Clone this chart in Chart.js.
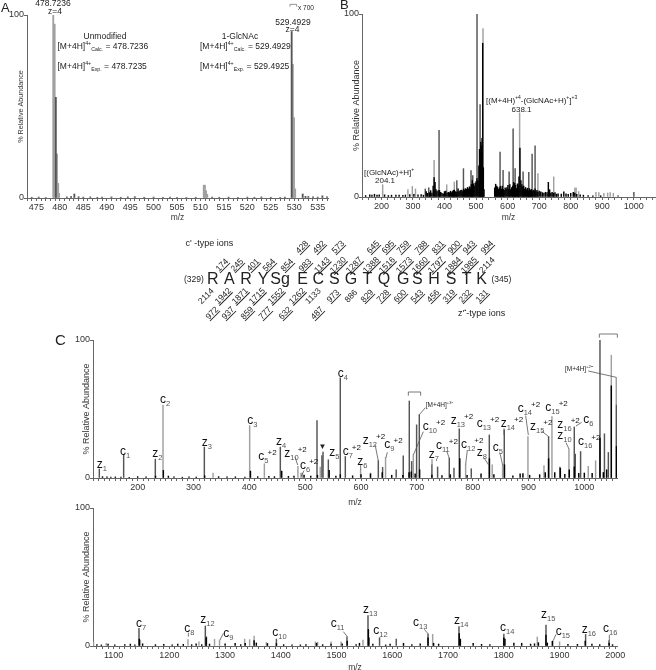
<!DOCTYPE html>
<html>
<head>
<meta charset="utf-8">
<script src="https://cdn.jsdelivr.net/npm/chart.js@4"></script>
<style>
  html, body { margin: 0; padding: 0; background: #fff; }
  #page { position: relative; width: 656px; height: 670px; overflow: hidden; font-family: "Liberation Sans", Arial, sans-serif; color: #222; }
  canvas { position: absolute; }
  #marks { position: absolute; left: 0; top: 0; }
  .t { position: absolute; white-space: nowrap; line-height: 1; }
  .t sub, .t sup { font-size: 0.62em; line-height: 0; }
  .ion { font-size: 12px; color: #111; }
  .ion sub { font-size: 7.5px; color: #555; vertical-align: -3px; }
  .ion sup { font-size: 8px; vertical-align: 5px; margin-left: -1px; }
  .num { font-size: 8.5px; transform: translate(-50%, -50%) rotate(-45deg); }
  .u { text-decoration: underline; }
</style>
</head>
<body>
<div id="page">
  <canvas id="chartA"></canvas>
  <canvas id="chartB"></canvas>
  <canvas id="chartC"></canvas>
  <canvas id="chartD"></canvas>
  <svg id="marks" width="656" height="670"></svg>
</div>
<script>
// Panel A, isotope clusters around 478.7 and 529.5
const aLabels = [475, 480, 485, 490, 495, 500, 505, 510, 515, 520, 525, 530, 535];
const aGrayMz = [478.6, 478.9, 479.4, 479.65, 479.85, 510.7, 510.95, 511.2, 511.45, 529.7, 529.95, 530.2];
const aGrayPct = [100, 95, 24, 8, 2.5, 7, 7, 4, 2, 73, 44, 5];
const aDarkMz = [479.15, 529.45, 483.1, 531.8, 536, 474, 475.5, 477, 481.5, 482.4, 484, 485, 486.5, 488, 489, 491, 493, 494.5, 496, 498, 500, 502, 503.5, 505, 507, 509, 512.5, 514, 516, 518, 520, 521.5, 523, 525, 527, 528, 532.4, 533, 534, 535, 537];
const aDarkPct = [55, 91, 2.2, 2.2, 1.2, 0.4, 0.5, 0.3, 0.6, 0.8, 0.7, 0.5, 0.6, 0.4, 0.5, 0.6, 0.4, 0.6, 0.7, 0.4, 0.5, 0.4, 0.5, 0.4, 0.3, 0.4, 0.5, 0.4, 0.5, 0.3, 0.5, 0.4, 0.6, 0.4, 0.3, 0.5, 0.9, 0.8, 0.6, 0.5, 0.7];

// Panel B, MS/MS of the glycopeptide
const bLabels = [200, 300, 400, 500, 600, 700, 800, 900, 1000];
const bGrayMz = [204, 284, 298, 308, 367, 407, 431, 522, 638, 696, 746, 813, 817, 825, 880, 889, 905, 917, 925, 935];
const bGrayPct = [6.7, 4, 5.8, 4.4, 20, 6.7, 8.2, 92, 46, 12.8, 11, 4.9, 5, 3, 2.6, 2.4, 2, 2.2, 2.4, 2];
const bDarkMz = [339, 350, 382.7, 439, 460, 484, 489.5, 503, 512.7, 576, 585.6, 604.7, 617.4, 623.7, 649, 667, 677.6, 687, 1000, 950];
const bDarkPct = [4.4, 5, 36.4, 9, 15.5, 14.4, 11.7, 100, 50.5, 24.6, 14.6, 13.7, 37.2, 15.5, 13.7, 13.5, 23.5, 28, 2.6, 0.8];
const bBlackMz = [150, 163, 170, 178, 186, 193, 210, 222, 232, 246, 256, 268, 276, 290, 303, 316, 326, 333, 342, 346, 352, 356, 360, 364, 367, 370, 373, 376, 380, 384, 388, 392, 396, 400, 404, 408, 412, 416, 419, 422, 425, 428, 431, 434, 437, 440, 443, 446, 449, 452, 455, 458, 461, 464, 467, 470, 473, 476, 479, 482, 485, 488, 491, 494, 497, 500, 503, 506, 509, 511, 513, 515, 517, 519, 521, 523, 525, 559, 562, 565, 568, 571, 574, 577, 580, 583, 586, 589, 592, 595, 598, 601, 604, 607, 610, 613, 616, 619, 622, 625, 628, 631, 634, 636, 639, 642, 645, 648, 651, 654, 657, 660, 663, 666, 669, 672, 675, 678, 681, 684, 687, 690, 693, 696, 700, 705, 710, 715, 720, 725, 729, 733, 737, 741, 745, 750, 755, 760, 770, 778, 785, 792, 800, 808, 813, 819, 830, 840, 855, 870, 895];
const bBlackPct = [0.8, 1.2, 1, 1.5, 1, 1.2, 1.2, 0.8, 1, 1, 1, 0.9, 1.1, 1.3, 1.5, 1.2, 1.3, 1, 3, 2, 2.4, 3.5, 2.2, 6, 10.6, 8, 4, 3, 3.5, 3.6, 2.5, 2, 1.8, 3, 3.2, 2.2, 2.6, 2.4, 3.2, 2.4, 3, 3.6, 3.8, 3, 2.4, 2.8, 4.4, 3, 3.4, 3.6, 3.8, 3, 4.4, 3.8, 4.6, 4.2, 5.2, 4.4, 5.6, 5, 6.8, 9, 7.2, 6, 7.6, 8.4, 10, 8.8, 17, 26, 21, 30, 28, 32, 84, 16, 4, 5, 7, 6, 5.4, 4.2, 5, 5.8, 4.4, 6, 4.2, 3.6, 5, 4.4, 5.2, 6.4, 4.2, 6.8, 4, 5.2, 6, 8, 7.4, 6.4, 4.8, 7.2, 6.6, 11, 26.8, 9, 6.8, 5.6, 6, 4.4, 5.2, 4, 4.8, 3.4, 4.6, 3.6, 4.2, 3, 3.8, 3.2, 4.4, 3, 3.6, 2.6, 3.2, 2.8, 2.4, 2.2, 2.6, 2.4, 8, 4, 2.2, 2.6, 2, 2.4, 1.6, 1.8, 1.6, 2.8, 1.8, 1.4, 2, 2.6, 2.2, 1.4, 1.2, 1, 0.8, 0.6, 0.7];

// Panel C, ETD spectrum upper range
const cLabels = [200, 300, 400, 500, 600, 700, 800, 900, 1000];
const cGrayMz = [245.4, 335, 400.6, 426.9, 487, 492.5, 495, 527, 599.3, 617, 644, 693.7, 787.4, 835, 853.6, 899, 927.7, 942, 972.4, 1007, 1020.2, 1048.3, 1057.2];
const cGrayPct = [52.9, 3.6, 38, 10.3, 8.4, 3.6, 3.6, 8, 6, 3.6, 15, 16.8, 10, 9.6, 9.6, 30, 9, 44.5, 21, 8.4, 12.5, 89, 72.8];
const cDarkMz = [131.3, 174.9, 231.6, 319.4, 455.5, 521.2, 532, 530, 541.5, 562.9, 571.9, 631, 638.7, 663, 675.7, 686.5, 690.7, 699.6, 704.4, 727, 737.2, 758.1, 766.5, 776, 797.5, 829.8, 856.6, 936, 956.3, 982, 983.8, 993.3, 1028, 1036, 1043, 1057.6];
const cDarkPct = [6.5, 16.8, 13.7, 22.4, 22.4, 41.6, 18.8, 16.3, 13.2, 72.6, 15.6, 12.5, 7.7, 6, 16, 55.8, 12, 38.5, 46, 9.6, 8, 14.4, 7.2, 35.6, 6.7, 31.2, 34.9, 30, 8, 37, 17.3, 19.2, 100, 32, 18.5, 52.9];
const cBlackMz = [137, 145, 152, 160, 170, 185, 200, 215, 232, 246, 255, 265, 280, 292, 305, 320, 345, 360, 375, 392, 402, 415, 435, 445, 458, 470, 480, 498, 510, 522, 543, 555, 563, 585, 600, 617, 638, 655, 675, 686, 690, 697, 705, 727, 745, 760, 777, 790, 815, 830, 838, 857, 872, 885, 890, 902, 920, 930, 936, 947, 957, 965, 973, 982, 990, 1000, 1014, 1028, 1034, 1040, 1048.3, 1057.6];
const cBlackPct = [1, 0.8, 0.6, 0.8, 0.7, 0.5, 1, 0.8, 1.4, 5.5, 1.4, 0.8, 0.6, 0.9, 0.7, 1.6, 1, 0.8, 0.9, 0.7, 5, 1, 1.2, 1, 5, 1.2, 1.4, 2.2, 1.4, 2, 5.5, 1.4, 2.4, 1.6, 2.4, 3, 4, 2, 2, 4, 4.4, 3, 6, 2.2, 1.8, 2.4, 14, 2, 3, 14, 2.4, 9.6, 1.6, 3, 3.2, 2, 2.4, 4, 14, 4, 7, 2.6, 6, 8, 3.4, 3.6, 3.4, 29, 4, 6, 66.8, 23];

// Panel C, ETD spectrum lower range (enlarged baseline)
const dLabels = [1100, 1200, 1300, 1400, 1500, 1600, 1700, 1800, 1900, 2000];
const dGrayMz = [1064, 1086.8, 1148, 1233.4, 1253, 1281, 1290, 1335, 1344, 1352, 1374, 1462, 1466, 1490, 1508, 1547.3, 1672.3, 1860, 1888, 1900];
const dGrayPct = [3, 2, 4.3, 4.6, 3, 4.8, 4.3, 5, 4.6, 7.2, 2.6, 3, 2.8, 3, 3, 4.3, 8.4, 6.5, 4, 3];
const dDarkMz = [1145.5, 1264.5, 1266.5, 1392, 1518.6, 1556.3, 1558.5, 1577, 1607, 1664, 1719.5, 1800, 1875.6, 1946.7, 1988.6];
const dDarkPct = [12.8, 14.5, 6.7, 5, 6.7, 22, 6, 6, 5, 8.7, 14, 8.7, 15.2, 8.4, 3.9];
const dBlackMz = [1070, 1078, 1090, 1102, 1120, 1130, 1138, 1146, 1152, 1175, 1190, 1205, 1215, 1225, 1240, 1248, 1258, 1266, 1272, 1300, 1318, 1328, 1336, 1352, 1356, 1376, 1392, 1405, 1420, 1435, 1445, 1464, 1475, 1490, 1510, 1519, 1535, 1541, 1557, 1565, 1588, 1596, 1620, 1635, 1650, 1664, 1674, 1683, 1720, 1722, 1745, 1760, 1775, 1800, 1802, 1818, 1832, 1848, 1855, 1862, 1875.6, 1878, 1887, 1915, 1932, 1946, 1958, 1972, 1989, 1995];
const dBlackPct = [1, 0.8, 1.4, 0.8, 1, 1.4, 0.8, 5, 1.6, 1, 1.2, 0.8, 1.4, 1.2, 1, 1.6, 1, 6, 1.4, 1.6, 2, 1, 2, 4, 2.2, 1.8, 1.8, 1, 0.8, 0.8, 1, 2, 1, 1.4, 1.6, 3.6, 1, 2, 12, 1.4, 0.8, 1.4, 2, 1, 1.6, 6, 2, 1.4, 9, 5, 2, 1.2, 1, 6, 5, 2.2, 2, 1.4, 1.6, 2.4, 8, 2.2, 3.4, 1.2, 1.2, 3.6, 1.4, 1, 2.2, 1];

// Peptide map
const residues = ['R', 'A', 'R', 'Y', 'Sg', 'E', 'C', 'S', 'G', 'T', 'Q', 'G', 'S', 'H', 'S', 'T', 'K'];
const cIons = ['174', '245', '401', '564', '854', '983', '1143', '1230', '1287', '1388', '1516', '1573', '1660', '1797', '1884', '1985', '2114'];
const cIons2 = ['428', '492', '573', '645', '695', '759', '788', '831', '900', '943', '994'];
const zIons = ['2114', '1942', '1871', '1715', '1552', '1262', '1133', '973', '886', '829', '728', '600', '543', '456', '319', '232', '131'];
const zIons2 = ['972', '937', '859', '777', '632', '487'];
const notUnderlined = ['2114', '1133', '886'];

const residueX = [128, 178, 228, 279, 330, 398, 445, 493, 543, 592, 642, 700, 742, 792, 843, 890, 935];
const cIonX = [155, 200, 250, 298, 350, 405, 455, 505, 553, 603, 652, 702, 750, 798, 848, 897, 950];
const cIon2X = [395, 448, 505, 608, 655, 700, 752, 803, 852, 898, 950];
const zIonX = [108, 160, 210, 260, 318, 380, 430, 490, 543, 590, 640, 690, 740, 790, 838, 885, 935];
const zIon2X = [125, 175, 230, 285, 345, 440];

const GRAY = '#a0a0a0', DARK = '#555555', BLACK = '#000000', AXIS = '#666666';

function peaks(mz, pct) {
  return mz.map((x, i) => ({ x, y: pct[i] }));
}

function spectrum(id, opt) {
  const canvas = document.getElementById(id);
  const box = opt.box;
  canvas.style.left = box.x + 'px';
  canvas.style.top = box.y + 'px';
  canvas.width = box.w;
  canvas.height = box.h;

  const sets = opt.series.map(([data, color]) => ({
    data, backgroundColor: color, barThickness: opt.bar || 0.8, grouped: false, borderWidth: 0,
  }));

  return new Chart(canvas, {
    type: 'bar',
    data: { datasets: sets },
    options: {
      responsive: false,
      animation: false,
      layout: {
        padding: { left: 0, top: opt.area.top - box.y, right: box.x + box.w - opt.area.right, bottom: 0 },
      },
      plugins: { legend: { display: false }, tooltip: { enabled: false } },
      scales: {
        x: {
          type: 'linear',
          offset: false,
          min: opt.min,
          max: opt.max,
          grid: { drawOnChartArea: false, offset: false, tickLength: 3, tickWidth: 1, tickColor: AXIS },
          border: { color: AXIS, width: 1 },
          afterBuildTicks: (axis) => {
            const list = [];
            const first = Math.ceil(opt.min / opt.step) * opt.step;
            for (let v = first; v <= opt.max; v += opt.step) list.push({ value: v });
            axis.ticks = list;
          },
          ticks: {
            autoSkip: false, maxRotation: 0, padding: 1, color: '#333', font: { size: 9 },
            callback: (v) => (opt.labels.includes(v) ? String(v) : ''),
          },
          title: { display: true, text: 'm/z', color: '#333', font: { size: 8.5, lineHeight: 1 }, padding: 0 },
          afterFit: (axis) => { axis.height = box.y + box.h - opt.area.bottom; },
        },
        y: {
          min: 0,
          max: 100,
          grid: { drawOnChartArea: false, tickLength: 3, tickWidth: 1, tickColor: AXIS },
          border: { color: AXIS, width: 1 },
          ticks: { stepSize: 100, padding: 0, color: '#333', font: { size: 9 } },
          title: {
            display: true, text: '% Relative Abundance', color: '#333',
            font: { size: opt.titleSize || 8.5, lineHeight: 1 },
            // tick labels get clipped to the axis box, so the box stays wide and the title is pushed in
            padding: { top: opt.titleX - 4.5 - box.x, bottom: 0 },
          },
          afterFit: (axis) => { axis.width = opt.area.left - box.x; },
        },
      },
    },
  });
}

spectrum('chartA', {
  box: { x: 0, y: 0, w: 335, h: 222 }, area: { left: 27, right: 328, top: 15, bottom: 198 },
  titleX: 22, min: 473, max: 537.2, step: 1, labels: aLabels, bar: 1.2, titleSize: 7.2,
  series: [[peaks(aDarkMz, aDarkPct), DARK], [peaks(aGrayMz, aGrayPct), GRAY]],
});
spectrum('chartB', {
  box: { x: 335, y: 0, w: 321, h: 222 }, area: { left: 362, right: 655, top: 14, bottom: 197 },
  titleX: 357, min: 138.5, max: 1067, step: 20, labels: bLabels, titleSize: 9,
  series: [[peaks(bBlackMz, bBlackPct), BLACK], [peaks(bDarkMz, bDarkPct), DARK], [peaks(bGrayMz, bGrayPct), GRAY]],
});
spectrum('chartC', {
  box: { x: 60, y: 332, w: 570, h: 175 }, area: { left: 93, right: 617, top: 340, bottom: 478 },
  titleX: 86.5, min: 120, max: 1058.5, step: 10, labels: cLabels, titleSize: 9,
  series: [[peaks(cBlackMz, cBlackPct), BLACK], [peaks(cDarkMz, cDarkPct), DARK], [peaks(cGrayMz, cGrayPct), GRAY]],
});
spectrum('chartD', {
  box: { x: 60, y: 500, w: 570, h: 172 }, area: { left: 93, right: 617, top: 508, bottom: 646 },
  titleX: 86.5, min: 1063, max: 2003, step: 10, labels: dLabels, titleSize: 9,
  series: [[peaks(dBlackMz, dBlackPct), BLACK], [peaks(dDarkMz, dDarkPct), DARK], [peaks(dGrayMz, dGrayPct), GRAY]],
});

// ---- annotations as plain text over the canvases ----
const page = document.getElementById('page');
const svg = document.getElementById('marks');

function text(html, x, y, size, align, cls) {
  const el = document.createElement('div');
  el.className = 't ' + (cls || '');
  el.innerHTML = html;
  el.style.left = x + 'px';
  el.style.top = y + 'px';
  if (size) el.style.fontSize = size + 'px';
  const tx = align === 'c' ? '-50%' : '0';
  if (cls !== 'num') el.style.transform = `translate(${tx}, -50%)`;
  page.appendChild(el);
  return el;
}

// lines are read in 3x crop coordinates, ox/oy is the crop origin
function lines(ox, oy, list, color) {
  list.forEach((p) => {
    const l = document.createElementNS('http://www.w3.org/2000/svg', 'polyline');
    const pts = [];
    for (let i = 0; i < p.length; i += 2) pts.push((ox + p[i] / 3) + ',' + (oy + p[i + 1] / 3));
    l.setAttribute('points', pts.join(' '));
    l.setAttribute('fill', 'none');
    l.setAttribute('stroke', color || '#555');
    l.setAttribute('stroke-width', '0.8');
    svg.appendChild(l);
  });
}

function ions(ox, oy, list) {
  list.forEach(([name, sub, sup, zx, zy]) => {
    let html = name;
    if (sub) html += `<sub>${sub}</sub>`;
    if (sup) html += `<sup>${sup}</sup>`;
    text(html, ox + zx / 3, oy + zy / 3, null, 'l', 'ion');
  });
}

// panel letters
text('A', 1, 7, 13);
text('B', 340, 4, 13);
text('C', 55, 339, 15);

// panel A notes
text('478.7236', 53, 3, 8.5, 'c');
text('z=4', 55, 11, 8.5, 'c');
text('Unmodified', 105, 35.5, 8.5, 'c');
text('[M+4H]<sup>4+</sup><sub>Calc.</sub> = 478.7236', 57.5, 45.5, 8.5);
text('[M+4H]<sup>4+</sup><sub>Exp.</sub> = 478.7235', 57.5, 66, 8.5);
text('1-GlcNAc', 240, 35.5, 8.5, 'c');
text('[M+4H]<sup>4+</sup><sub>Calc.</sub> = 529.4929', 200, 45.5, 8.5);
text('[M+4H]<sup>4+</sup><sub>Exp.</sub> = 529.4925', 200, 66, 8.5);
text('529.4929', 293, 21.5, 8.5, 'c');
text('z=4', 292.5, 28.5, 8.5, 'c');
text('x 700', 298, 8, 6.5);
lines(0, 0, [[870, 20, 870, 13, 890, 13, 890, 20]], '#777');

// panel B notes
text('[(GlcNAc)+H]<sup>+</sup>', 364, 172.5, 8);
text('204.1', 385, 180.5, 8, 'c');
text('[(M+4H)<sup>+4</sup>-(GlcNAc+H)<sup>+</sup>]<sup>+3</sup>', 486, 101, 8);
text('638.1', 521.5, 109.5, 8, 'c');

// peptide map
residues.forEach((r, i) => text(r, 170 + residueX[i] / 3, 278.5, 16, 'c'));
text('(329)', 184, 279, 8.5);
text('(345)', 491.5, 279, 8.5);
text("c' -type ions", 185.5, 242.5, 9);
text("z'<sup>•</sup>-type ions", 458, 312.5, 9);
function numbers(labels, xs, y) {
  labels.forEach((n, i) => {
    const el = text(n, 170 + xs[i] / 3, y, 8.5, 'l', 'num');
    if (!notUnderlined.includes(n)) el.classList.add('u');
  });
}
numbers(cIons, cIonX, 265);
numbers(cIons2, cIon2X, 247);
numbers(zIons, zIonX, 296);
numbers(zIons2, zIon2X, 313);

// panel C upper ion labels
ions(0, 325, [
  ['z', '1', '', 290, 418], ['c', '1', '', 360, 377], ['z', '2', '', 457, 385], ['c', '2', '', 480, 222],
  ['z', '3', '', 605, 352], ['c', '3', '', 742, 285], ['c', '5', '+2', 775, 393], ['z', '4', '', 828, 349],
  ['z', '10', '+2', 853, 385], ['c', '6', '+2', 900, 420], ['z', '5', '', 988, 382],
]);
ions(330, 325, [
  ['c', '4', '', 23, 143], ['c', '7', '+2', 38, 378], ['z', '6', '', 82, 407], ['z', '12', '+2', 98, 345],
  ['c', '9', '+2', 163, 358], ['c', '10', '+2', 278, 303], ['z', '13', '+2', 362, 285], ['c', '11', '+2', 318, 361],
  ['z', '7', '', 296, 387], ['c', '12', '+2', 393, 357], ['z', '8', '', 440, 382], ['c', '13', '+2', 440, 295],
  ['c', '5', '', 488, 366], ['z', '14', '+2', 512, 295], ['c', '14', '+2', 563, 248], ['z', '15', '+2', 600, 302],
  ['c', '15', '+2', 646, 247], ['z', '16', '+2', 682, 296], ['z', '10', '', 682, 331], ['c', '6', '', 760, 281],
  ['c', '16', '+2', 744, 348],
]);
text('[M+4H]<sup>+3•</sup>', 330 + 287 / 3, 325 + 240 / 3, 6.5);
text('[M+4H]<sup>+2••</sup>', 330 + 705 / 3, 325 + 132 / 3, 6.5);
text('▼', 322.5, 446.5, 8, 'c');

// panel C lower ion labels
ions(0, 495, [
  ['c', '7', '', 408, 383], ['c', '8', '', 553, 398], ['z', '12', '', 601, 373], ['c', '9', '', 670, 413],
  ['c', '10', '', 817, 412], ['c', '11', '', 992, 385],
]);
ions(330, 495, [
  ['z', '13', '', 99, 343], ['c', '12', '', 130, 404], ['c', '13', '', 249, 380], ['z', '14', '', 372, 376],
  ['c', '14', '', 510, 397], ['z', '15', '', 633, 356], ['c', '15', '', 677, 407], ['z', '16', '', 755, 401],
  ['c', '16', '', 819, 398],
]);

// leader lines and brackets
lines(0, 325, [[885, 395, 893, 420], [912, 437, 903, 455]]);
lines(330, 325, [
  [286, 248, 269, 268], [280, 320, 250, 390], [135, 358, 145, 408], [172, 382, 168, 398], [92, 420, 92, 435],
  [306, 402, 306, 420], [350, 378, 358, 400], [412, 375, 407, 418], [463, 400, 476, 420], [510, 385, 518, 420],
  [522, 310, 522, 330], [587, 272, 595, 330], [635, 318, 656, 335], [708, 353, 717, 372], [755, 292, 738, 303],
  [775, 138, 859, 157],
  [235, 212, 235, 201, 272, 201, 272, 212], [808, 38, 808, 27, 862, 27, 862, 38],
]);
lines(0, 495, [[670, 415, 660, 435], [565, 413, 565, 425]]);
lines(330, 495, [[40, 410, 52, 425], [283, 403, 295, 417], [678, 418, 670, 436], [838, 420, 838, 437]]);
</script>
</body>
</html>
